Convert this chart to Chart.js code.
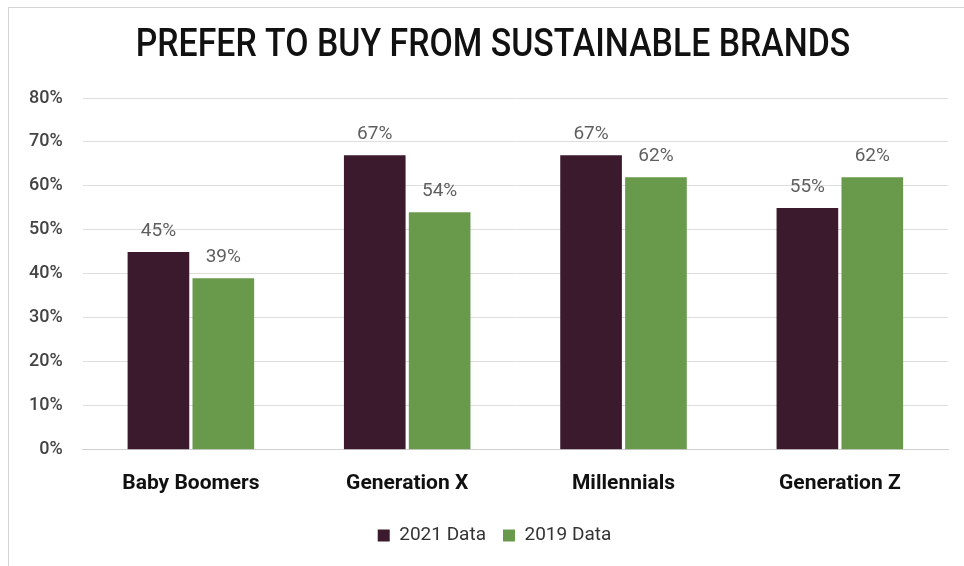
<!DOCTYPE html>
<html>
<head>
<meta charset="utf-8">
<script src="https://cdn.jsdelivr.net/npm/chart.js@4"></script>
<style>
  html, body { margin: 0; padding: 0; background: #fff; }
  #wrap { position: absolute; left: 0; top: 0; width: 964px; height: 566px; }
  #frame { position: absolute; left: 8px; top: 7px; right: 0; bottom: 0; border-left: 1px solid #d4d4d4; border-top: 1px solid #d4d4d4; pointer-events: none; }
</style>
</head>
<body>
<div id="wrap">
  <canvas id="chart" width="964" height="566"></canvas>
  <div id="frame"></div>
</div>
<script>
const chartTitle = 'PREFER TO BUY FROM SUSTAINABLE BRANDS';
const generations = ['Baby Boomers', 'Generation X', 'Millennials', 'Generation Z'];
const data2021 = [45, 67, 67, 55];
const data2019 = [39, 54, 62, 62];
const seriesNames = ['2021 Data', '2019 Data'];

// title drawn a bit narrower to mimic the condensed face of the original
const condensedTitle = {
    id: 'condensedTitle',
    afterDraw(chart) {
        const ctx = chart.ctx;
        ctx.save();
        ctx.font = '500 38px Roboto';
        ctx.fillStyle = '#111';
        ctx.textAlign = 'center';
        ctx.textBaseline = 'middle';
        ctx.translate(493, 46);
        ctx.scale(0.89, 1);
        ctx.fillText(chartTitle, 0, 0);
        ctx.restore();
    }
};

// value labels above each bar
const barValues = {
    id: 'barValues',
    afterDatasetsDraw(chart) {
        const ctx = chart.ctx;
        ctx.save();
        ctx.font = '19px Roboto';
        ctx.fillStyle = '#5f5f5f';
        ctx.textAlign = 'center';
        ctx.textBaseline = 'alphabetic';
        chart.data.datasets.forEach((ds, i) => {
            chart.getDatasetMeta(i).data.forEach((bar, j) => {
                ctx.fillText(ds.data[j] + '%', bar.x, bar.y - 16);
            });
        });
        ctx.restore();
    }
};

// legend in the original sits a little right of centre
const nudgeLegend = {
    id: 'nudgeLegend',
    afterLayout(chart) {
        if (!chart.legend) return;
        chart.legend.left += 16;
        chart.legend.right += 16;
    }
};

new Chart(document.getElementById('chart'), {
    type: 'bar',
    data: {
        labels: generations,
        datasets: [
            { label: seriesNames[0], data: data2021, backgroundColor: '#3c1a2d', barPercentage: 0.95, categoryPercentage: 0.6 },
            { label: seriesNames[1], data: data2019, backgroundColor: '#699a4b', barPercentage: 0.95, categoryPercentage: 0.6 }
        ]
    },
    options: {
        responsive: false,
        animation: false,
        layout: { padding: { top: 98, right: 16, left: 9, bottom: 11 } },
        plugins: {
            title: { display: false },
            tooltip: { enabled: false },
            legend: {
                position: 'bottom',
                labels: {
                    boxWidth: 12, boxHeight: 12, padding: 17,
                    color: '#333', font: { family: 'Roboto', size: 19 }
                }
            }
        },
        scales: {
            x: {
                grid: { display: false },
                border: { display: true, color: '#d0d0d0' },
                ticks: { color: '#111', padding: 13, font: { family: 'Roboto', size: 21, weight: 'bold' } }
            },
            y: {
                min: 0, max: 80,
                border: { display: false },
                grid: { color: '#dedede', drawTicks: false },
                ticks: {
                    stepSize: 10, padding: 20, color: '#444',
                    font: { family: 'Roboto', size: 18, weight: '500' },
                    callback: v => v + '%'
                }
            }
        }
    },
    plugins: [condensedTitle, barValues, nudgeLegend]
});
</script>
</body>
</html>
